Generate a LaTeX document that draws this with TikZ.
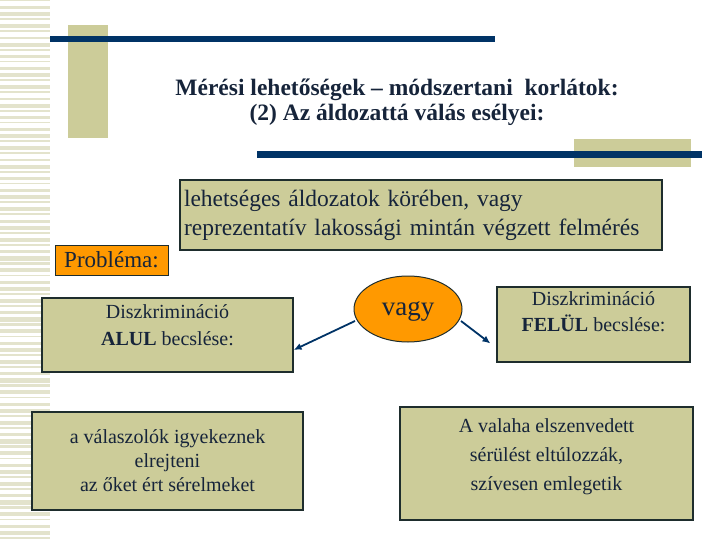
\documentclass[tikz,border=0pt]{standalone}
\usepackage{fontspec}
\setmainfont{Liberation Serif}
\usepackage{tikz}
\usetikzlibrary{shapes.geometric, arrows.meta, positioning}
\definecolor{beige}{RGB}{204,204,153}
\definecolor{stripec}{RGB}{227,227,204}
\definecolor{navy}{RGB}{0,51,102}
\definecolor{orng}{RGB}{255,153,0}
\definecolor{txtc}{RGB}{22,36,58}
\definecolor{edgec}{RGB}{30,45,45}
\tikzset{
    box/.style={draw=edgec, line width=1.1pt, fill=beige, text=txtc, align=center, inner sep=2pt},
    obox/.style={draw=edgec, line width=1pt, fill=orng, text=txtc, inner sep=2pt},
    link/.style={draw=navy, line width=1.8pt, -{Latex[length=8pt, width=7pt]}}
}

\begin{document}
\begin{tikzpicture}[x=1pt, y=-1pt]
\useasboundingbox (0,0) rectangle (720,540);
\foreach \i in {0,...,88} {
    \pgfmathsetmacro{\ypos}{\i*6.1}
    \pgfmathsetmacro{\h}{1.5+mod(\i*7,5)*0.7}
    \fill[stripec] (0,\ypos) rectangle (50,\ypos+\h);
}
\fill[beige] (68,25) rectangle (108,138);
\fill[navy] (50,36) rectangle (495,42);
\fill[beige] (574,139) rectangle (691,167);
\fill[navy] (257,151) rectangle (702,158);
\node[text=txtc, font=\fontsize{23.5}{25}\selectfont\bfseries, align=center] (title) at (397,102)
    {Mérési lehetőségek -- módszertani\ \ korlátok:\\(2) Az áldozattá válás esélyei:};
\node[box, minimum width=482pt, minimum height=70pt, text width=474pt, align=left,
    font=\fontsize{23.5}{29}\selectfont] (minta) at (421,215)
    {lehetséges áldozatok körében, vagy\\reprezentatív lakossági mintán végzett felmérés};
\node[obox, minimum width=113pt, minimum height=30pt, font=\fontsize{23}{24}\selectfont] (probl) at (111.5,260) {Probléma:};
\node[box, minimum width=251pt, minimum height=74pt, font=\fontsize{20}{27}\selectfont] (alul) at (167.5,335)
    {Diszkrimináció\\\textbf{ALUL} becslése:\\[-8pt]\mbox{}};
\node[obox, ellipse, minimum width=108pt, minimum height=66pt, text depth=0pt,
    font=\fontsize{27}{30}\selectfont] (vagy) at (408,309) {vagy};
\node[box, minimum width=193pt, minimum height=75pt, font=\fontsize{20}{26}\selectfont] (felul) at (593.5,324.5)
    {Diszkrimináció\\\textbf{FELÜL} becslése:\\\mbox{}};
\node[box, minimum width=271pt, minimum height=98pt, font=\fontsize{20}{24}\selectfont] (rejt) at (167.5,461)
    {a válaszolók igyekeznek\\elrejteni\\az őket ért sérelmeket};
\node[box, minimum width=293pt, minimum height=113pt, font=\fontsize{20}{29}\selectfont] (tuloz) at (546.5,463.5)
    {A valaha elszenvedett\\sérülést eltúlozzák,\\szívesen emlegetik\\[-12pt]\mbox{}};
\coordinate (alulend) at ([yshift=-15pt]alul.east);
\coordinate (felulend) at ([xshift=-6pt, yshift=-19pt]felul.west);
\draw[link] ([xshift=-53pt, yshift=-12pt]vagy.center) -- (alulend);
\draw[link] ([xshift=53pt, yshift=-12pt]vagy.center) -- (felulend);
\end{tikzpicture}
\end{document}
